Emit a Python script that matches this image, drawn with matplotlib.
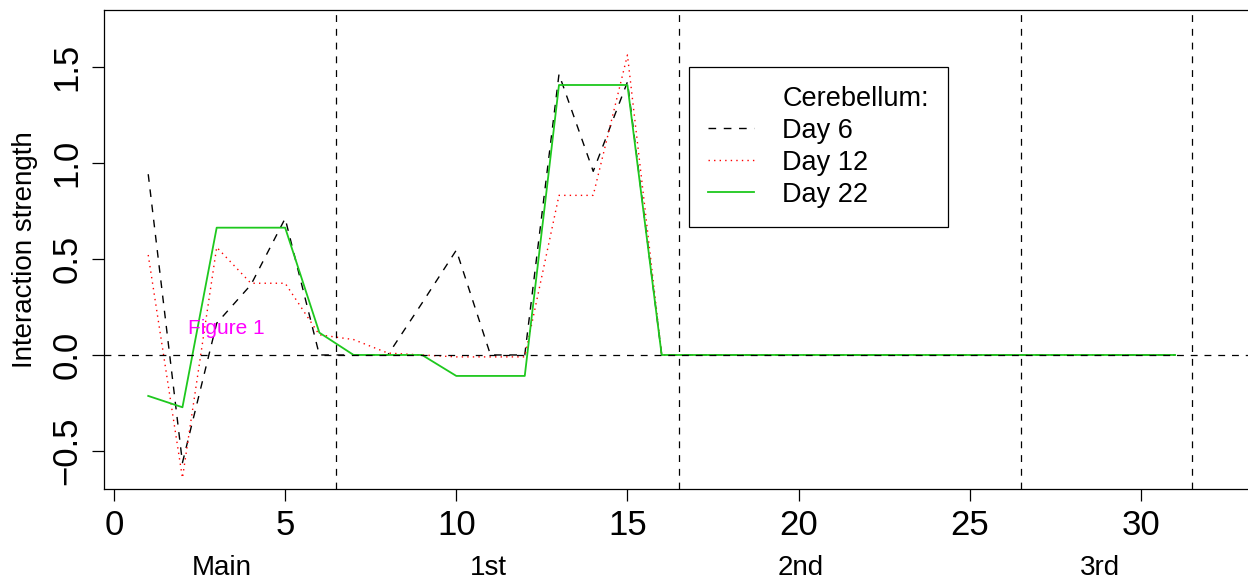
import numpy as np
import matplotlib
matplotlib.use('Agg')
import matplotlib.pyplot as plt
from matplotlib.lines import Line2D

plt.rcParams['font.family'] = ['Liberation Sans', 'DejaVu Sans']

x = np.arange(1, 32)
day6 = [0.94, -0.56, 0.165, 0.365, 0.71, 0.0, 0.0, 0.0, 0.27, 0.545, 0.0, 0.0,
        1.46, 0.955, 1.42] + [0.0] * 16
day12 = [0.52, -0.64, 0.56, 0.373, 0.373, 0.105, 0.08, 0.01, 0.0, -0.01, -0.01, -0.01,
         0.83, 0.83, 1.56] + [0.0] * 16
day22 = [-0.213, -0.272, 0.662, 0.662, 0.662, 0.116, 0.0, 0.0, 0.0, -0.109, -0.109, -0.109,
         1.404, 1.404, 1.404] + [0.0] * 16

separators = [6.5, 16.5, 26.5, 31.5]
group_names = ['Main', '1st', '2nd', '3rd']
group_pos = [3.16, 10.93, 20.06, 28.8]

fig = plt.figure(figsize=(12.48, 5.83), dpi=100)
W, H = 1248, 583
ax = fig.add_axes([104 / W, (H - 489) / H, 1160 / W, 479 / H])

dash = (0, (5.5, 5.5))
ax.plot(x, day6, color='black', lw=1.0, linestyle=dash, label='Day 6')
ax.plot(x, day12, color='red', lw=1.0, linestyle=(0, (1, 3)), label='Day 12')
ax.plot(x, day22, color='#1ec81e', lw=1.3, label='Day 22')

ax.axhline(0, color='black', lw=0.9, linestyle=dash)
for s in separators:
    ax.axvline(s, color='black', lw=0.9, linestyle=dash)

ax.set_xlim(-0.292, -0.292 + 1160 / 34.23)
ax.set_ylim(-0.697, 1.794)

ax.set_xticks([0, 5, 10, 15, 20, 25, 30])
ax.set_yticks([-0.5, 0.0, 0.5, 1.0, 1.5])
ax.set_yticklabels(['\u22120.5', '0.0', '0.5', '1.0', '1.5'], rotation=90, va='center')
ax.tick_params(axis='both', labelsize=25, length=8.6, width=0.9, direction='out')
ax.tick_params(axis='x', pad=6)
ax.tick_params(axis='y', pad=6)
for sp in ax.spines.values():
    sp.set_linewidth(0.9)

ax.set_ylabel('Interaction strength', fontsize=20, labelpad=9)

for name, pos in zip(group_names, group_pos):
    ax.text(pos, -0.165, name, fontsize=20, ha='center', va='center',
            transform=ax.get_xaxis_transform())

ax.text(3.27, 0.14, 'Figure 1', color='magenta', fontsize=15, ha='center', va='center')

handles = [Line2D([], [], linestyle='none'),
           Line2D([], [], color='black', lw=1.0, linestyle=dash),
           Line2D([], [], color='red', lw=1.0, linestyle=(0, (1, 3))),
           Line2D([], [], color='#1ec81e', lw=1.3)]
labels = ['Cerebellum:', 'Day 6', 'Day 12', 'Day 22']
leg = ax.legend(handles, labels, loc='upper left', fontsize=19.5,
                bbox_to_anchor=(689 / W, 1 - 67 / H), bbox_transform=fig.transFigure,
                fancybox=False, edgecolor='black', framealpha=1, borderpad=0.7,
                labelspacing=0.22, handlelength=1.7, handletextpad=1.05,
                borderaxespad=0)
leg.get_frame().set_linewidth(0.9)

fig.savefig('out.png', dpi=100)
